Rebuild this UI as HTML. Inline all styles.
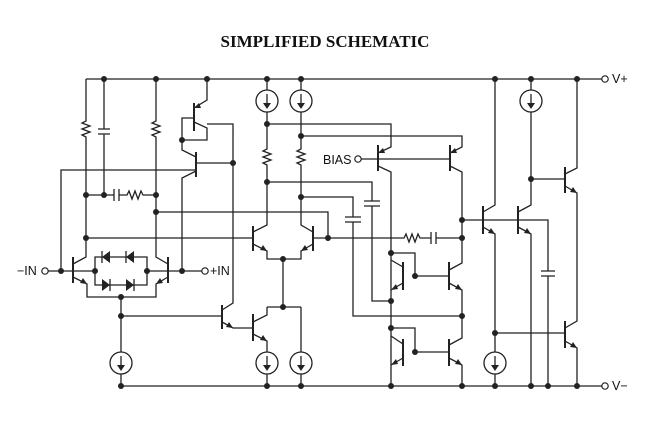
<!DOCTYPE html>
<html><head><meta charset="utf-8"><style>
html,body{margin:0;padding:0;background:#fff;}
svg{display:block;}
</style></head><body>
<svg width="666" height="448" viewBox="0 0 666 448" xmlns="http://www.w3.org/2000/svg">
<rect width="666" height="448" fill="#fff"/>
<text x="325" y="47" text-anchor="middle" font-family="Liberation Serif, serif" font-weight="bold" font-size="17" fill="#111">SIMPLIFIED SCHEMATIC</text>
<g stroke="#222" stroke-width="1.3" fill="none">
<!-- rails -->
<path d="M86 79 H602 M121 386 H602"/>
<!-- left column -->
<path d="M86 79 V121 l-4 2 l8 3 l-8 3 l8 3 l-8 3 l4 2 V257 L73 264"/>
<path d="M104 79 V129 M98 129 H110 M98 134 H110 M104 134 V195"/>
<path d="M156 79 V121 l-4 2 l8 3 l-8 3 l8 3 l-8 3 l4 2 V257 L168 264"/>
<path d="M86 195 H114 M114 189 V201 M119 189 V201 M119 195 H127 l2 -4 l3 8 l3 -8 l3 8 l3 -8 l2 4 H156"/>
<path d="M156 212 H328 V238"/>
<path d="M86 238 H253"/>
<!-- input transistors -->
<path d="M73 257 V283 M168 257 V283" stroke-width="2"/>
<path d="M73 277 L87 284 V297 H156 V284 L168 277"/>
<path d="M48 271 H95 M147 271 H202"/>
<path d="M61 271 V170 H196"/>
<path d="M182 271 V178 L196 171"/>
<!-- diode bridge -->
<path d="M95 257 H147 V285 H95 Z"/>
<!-- current source left -->
<path d="M121 297 V352 M121 374 V386 M121 316 H222"/>
<!-- top stack -->
<path d="M207 79 V100 L194 108 M194 118 H182 V140 H207 V128 L194 122 M207 124 H233 V303 L222 310 M222 322 L233 328 H253"/>
<path d="M194 103 V131 M196 152 V177 M222 305 V329" stroke-width="2"/>
<path d="M182 140 V150 L196 157 M196 163 H233"/>
<!-- diff pair section -->
<path d="M267 79 V90 M267 112 V149 l-4 2 l8 3 l-8 3 l8 3 l-8 3 l4 2 V225 L253 232"/>
<path d="M301 79 V90 M301 112 V149 l-4 2 l8 3 l-8 3 l8 3 l-8 3 l4 2 V225 L313 232"/>
<path d="M253 226 V251 M313 226 V251 M253 314 V341" stroke-width="2"/>
<path d="M253 244 L267 251 V259 H301 V251 L313 244 M283 259 V307 M267 307 H301"/>
<path d="M313 238 H404 l2 -4 l3 8 l3 -8 l3 8 l3 -8 l2 4 H431 M431 232 V244 M436 232 V244 M436 238 H462"/>
<path d="M267 307 V315 L253 322 M253 334 L267 341 V352 M267 374 V386 M301 307 V352 M301 374 V386"/>
<path d="M267 124 H391 V147 L378 153 M301 136 H462 V147 L450 153"/>
<path d="M361 159 H450"/>
<path d="M378 145 V171 M450 145 V171" stroke-width="2"/>
<path d="M378 166 L391 172 V386 M450 166 L462 172 V263 L449 270"/>
<path d="M267 182 H372 V201 M364 201 H380 M364 206 H380 M372 206 V301 H391"/>
<path d="M301 197 H353 V217 M345 217 H361 M345 222 H361 M353 222 V316 H462"/>
<!-- mirrors -->
<path d="M403 262 V290 M449 262 V290 M403 339 V366 M449 339 V366" stroke-width="2"/>
<path d="M391 253 H415 V276 H449 M391 260 L403 267 M403 283 L391 290 M449 283 L462 290 V338 L449 345"/>
<path d="M391 328 H415 V352 H449 M391 336 L403 344 M403 358 L391 365 M449 358 L462 365 V386"/>
<!-- output stage -->
<path d="M462 220 H548 V271 M541 271 H555 M541 276 H555 M548 276 V386"/>
<path d="M483 206 V234 M518 206 V234 M565 167 V193 M565 321 V348" stroke-width="2"/>
<path d="M495 79 V205 L483 212 M483 227 L495 234 V352 M495 374 V386 M495 333 H565"/>
<path d="M531 79 V90 M531 112 V205 L518 212 M518 227 L531 234 V386 M531 179 H565"/>
<path d="M577 79 V168 L565 174 M565 186 L577 193 V321 L565 328 M565 341 L577 348 V386"/>
<!-- current source circles -->
<circle cx="121" cy="363" r="11"/><circle cx="267" cy="101" r="11"/><circle cx="301" cy="101" r="11"/>
<circle cx="267" cy="363" r="11"/><circle cx="301" cy="363" r="11"/><circle cx="531" cy="101" r="11"/><circle cx="495" cy="363" r="11"/>
<path d="M121 356 V369 M267 94 V107 M301 94 V107 M267 356 V369 M301 356 V369 M531 94 V107 M495 356 V369"/>
</g>
<g fill="#222">
<polygon points="117,365 125,365 121,371"/><polygon points="263,103 271,103 267,109"/><polygon points="297,103 305,103 301,109"/>
<polygon points="263,365 271,365 267,371"/><polygon points="297,365 305,365 301,371"/><polygon points="527,103 535,103 531,109"/><polygon points="491,365 499,365 495,371"/>
<polygon points="102,271 110,265 110,277" transform="translate(0,-14)"/>
<polygon points="126,271 134,265 134,277" transform="translate(0,-14)"/>
<polygon points="110,271 102,265 102,277" transform="translate(0,14)"/>
<polygon points="134,271 126,265 126,277" transform="translate(0,14)"/>
<polygon points="87,284 80,283 83,278"/><polygon points="156,284 163,283 160,278"/>
<polygon points="194,108 199,103 201,108"/><polygon points="267,251 260,250 263,245"/><polygon points="301,251 308,250 305,245"/>
<polygon points="267,341 260,340 263,335"/><polygon points="233,328 226,327 229,322"/>
<polygon points="378,153 383,148 385,153"/><polygon points="450,153 455,148 457,153"/>
<polygon points="391,290 398,289 396,284"/><polygon points="462,290 455,289 458,284"/>
<polygon points="391,365 398,364 396,359"/><polygon points="462,365 455,364 458,359"/>
<polygon points="495,234 488,233 491,228"/><polygon points="531,234 524,233 527,228"/>
<polygon points="577,193 570,192 573,187"/><polygon points="577,348 570,347 573,342"/>
<circle cx="104" cy="79" r="3"/><circle cx="156" cy="79" r="3"/><circle cx="207" cy="79" r="3"/><circle cx="267" cy="79" r="3"/><circle cx="301" cy="79" r="3"/>
<circle cx="495" cy="79" r="3"/><circle cx="531" cy="79" r="3"/><circle cx="577" cy="79" r="3"/>
<circle cx="86" cy="195" r="3"/><circle cx="104" cy="195" r="3"/><circle cx="156" cy="195" r="3"/><circle cx="156" cy="212" r="3"/><circle cx="86" cy="238" r="3"/>
<circle cx="61" cy="271" r="3"/><circle cx="95" cy="271" r="3"/><circle cx="147" cy="271" r="3"/><circle cx="182" cy="271" r="3"/>
<circle cx="121" cy="297" r="3"/><circle cx="121" cy="316" r="3"/><circle cx="182" cy="140" r="3"/><circle cx="233" cy="163" r="3"/>
<circle cx="267" cy="124" r="3"/><circle cx="301" cy="136" r="3"/><circle cx="267" cy="182" r="3"/><circle cx="301" cy="197" r="3"/>
<circle cx="328" cy="238" r="3"/><circle cx="283" cy="259" r="3"/><circle cx="283" cy="307" r="3"/>
<circle cx="391" cy="253" r="3"/><circle cx="415" cy="276" r="3"/><circle cx="391" cy="301" r="3"/><circle cx="462" cy="316" r="3"/>
<circle cx="391" cy="328" r="3"/><circle cx="415" cy="352" r="3"/><circle cx="462" cy="220" r="3"/><circle cx="462" cy="238" r="3"/>
<circle cx="531" cy="179" r="3"/><circle cx="495" cy="333" r="3"/>
<circle cx="121" cy="386" r="3"/><circle cx="267" cy="386" r="3"/><circle cx="301" cy="386" r="3"/><circle cx="391" cy="386" r="3"/><circle cx="462" cy="386" r="3"/>
<circle cx="495" cy="386" r="3"/><circle cx="531" cy="386" r="3"/><circle cx="548" cy="386" r="3"/><circle cx="577" cy="386" r="3"/>
</g>
<g stroke="#222" stroke-width="1.3">
<path d="M110 265 V277 M134 265 V277" transform="translate(-8,-14)"/>
<path d="M110 265 V277 M134 265 V277" transform="translate(0,14)"/>
</g>
<g fill="#fff" stroke="#222" stroke-width="1.2">
<circle cx="45" cy="271" r="3.2"/><circle cx="205" cy="271" r="3.2"/><circle cx="358" cy="159" r="3.2"/>
<circle cx="605" cy="79" r="3.2"/><circle cx="605" cy="386" r="3.2"/>
</g>
<g font-family="Liberation Sans, sans-serif" font-size="12.5" fill="#111">
<text x="17" y="275">−IN</text>
<text x="210" y="275">+IN</text>
<text x="323" y="164">BIAS</text>
<text x="612" y="83">V+</text>
<text x="612" y="390">V−</text>
</g>
</svg>
</body></html>
